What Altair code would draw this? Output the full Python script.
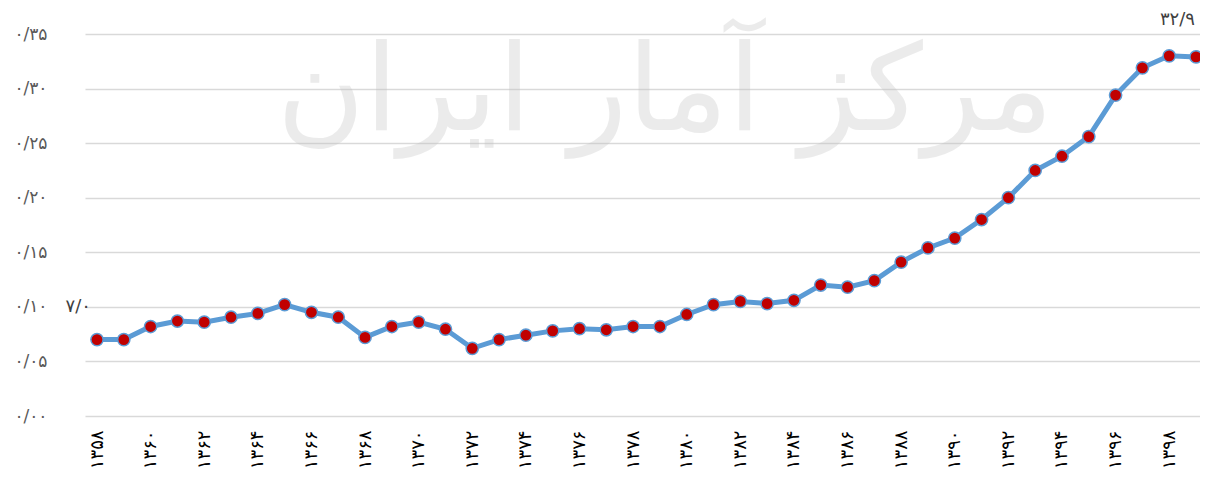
import altair as alt
import pandas as pd

years = list(range(1358, 1400))
values = [0.070, 0.070, 0.082, 0.087, 0.086, 0.0905, 0.094, 0.102, 0.095, 0.0905,
          0.072, 0.082, 0.086, 0.0795, 0.062, 0.070, 0.074, 0.078, 0.080, 0.079,
          0.082, 0.082, 0.093, 0.102, 0.105, 0.103, 0.106, 0.120, 0.118, 0.124,
          0.141, 0.154, 0.163, 0.180, 0.200, 0.225, 0.238, 0.256, 0.294, 0.319,
          0.330, 0.329]
y_ticks = [0.0, 0.05, 0.10, 0.15, 0.20, 0.25, 0.30, 0.35]
label_years = list(range(1358, 1400, 2))
watermark_text = "مرکز آمار ایران"

FA = str.maketrans("0123456789", "۰۱۲۳۴۵۶۷۸۹")


def fa(s):
    return str(s).translate(FA)


point_labels = ["" for _ in years]
point_labels[0] = fa(f"{values[0]*100:.1f}").replace(".", "/")
point_labels[-1] = fa(f"{values[-1]*100:.1f}").replace(".", "/")

df = pd.DataFrame({"year": years, "value": values, "lab": point_labels})

ylabel_expr = " : ".join(
    f"format(datum.value, '.2f') == '{t:.2f}' ? '{fa(f'{t:.2f}').replace('.', '/')}'" for t in y_ticks
) + " : ''"
xlabel_expr = " : ".join(
    f"datum.value == {y} ? '{fa(y)}'" for y in label_years
) + " : ''"

FONT = "DejaVu Sans"
WIDTH = 1115
STEP = 1099 / 41.0

x_enc = alt.X(
    "year:Q",
    scale=alt.Scale(domain=[1358 - 12 / STEP, 1399 + (WIDTH - 1111) / STEP], nice=False, zero=False),
    axis=alt.Axis(
        values=label_years,
        labelExpr=xlabel_expr,
        labelAngle=-90,
        labelFontSize=18,
        labelColor="#000000",
        labelFont=FONT,
        labelPadding=14,
        labelFlush=False,
        labelOverlap=False,
        domain=False,
        ticks=False,
        grid=False,
        title=None,
    ),
)
y_enc = alt.Y(
    "value:Q",
    scale=alt.Scale(domain=[0, 0.35], nice=False, zero=True),
    axis=alt.Axis(
        values=y_ticks,
        labelExpr=ylabel_expr,
        labelFontSize=17,
        labelColor="#595959",
        labelFont=FONT,
        labelPadding=38,
        domain=False,
        ticks=False,
        grid=True,
        gridColor="#D9D9D9",
        gridWidth=1.3,
        title=None,
    ),
)

base = alt.Chart(df).encode(x=x_enc, y=y_enc)

watermark = alt.Chart(pd.DataFrame({"t": [watermark_text]})).mark_text(
    fontSize=120, font=FONT, color="#BFBFBF", opacity=0.3, align="center", baseline="middle"
).encode(x=alt.value(580), y=alt.value(60), text="t:N")

line = base.mark_line(color="#5B9BD5", strokeWidth=5)
pts = base.mark_point(filled=True, fill="#C00000", stroke="#5B9BD5", strokeWidth=1.5,
                      size=150, opacity=1, shape="circle")
first_lab = alt.Chart(df.iloc[[0]]).mark_text(
    fontSize=18, font=FONT, color="#404040", align="right", dx=-6, dy=-33
).encode(x=x_enc, y=y_enc, text="lab:N")
last_lab = alt.Chart(df.iloc[[-1]]).mark_text(
    fontSize=18, font=FONT, color="#404040", align="right", dx=-1, dy=-37
).encode(x=x_enc, y=y_enc, text="lab:N")

chart = alt.layer(watermark, line, pts, first_lab, last_lab).properties(
    width=WIDTH, height=382,
    background="white",
    autosize=alt.AutoSizeParams(type="none"),
    padding={"left": 77, "top": 26, "right": 0, "bottom": 57},
).configure_view(stroke="transparent", strokeWidth=0)

chart.save("out.html", embed_options={"renderer": "svg", "actions": False})
